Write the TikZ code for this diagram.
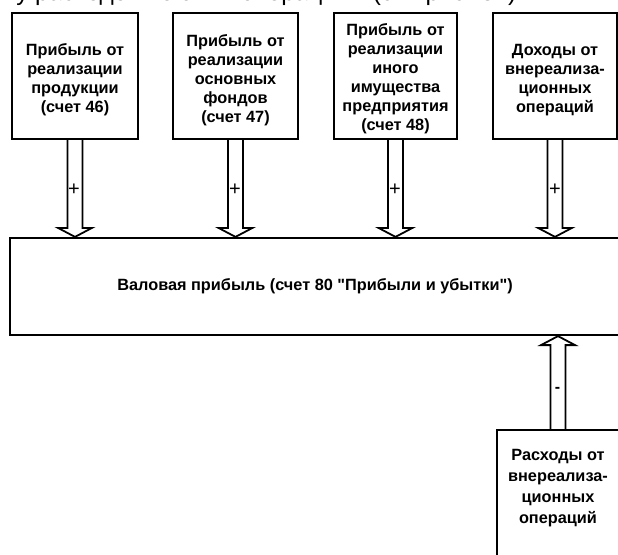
\documentclass[tikz,border=0pt]{standalone}
\usepackage{fontspec}
\setmainfont{Liberation Sans}
\newfontfamily\qfont{Liberation Sans}
\newcommand\dq{{\qfont"}}
\usetikzlibrary{calc}
\tikzset{
  box/.style={draw, line width=2.2pt, fill=white, inner sep=0pt},
  boxtext/.style={align=center, inner sep=0pt, font=\bfseries\fontsize{16.3}{19}\selectfont},
  lowtext/.style={align=center, inner sep=0pt, font=\bfseries\fontsize{16.3}{21}\selectfont},
  fat/.style={draw, line width=1.8pt, fill=white, line join=miter},
  sign/.style={inner sep=0pt, font=\fontsize{20}{20}\selectfont},
  minus/.style={inner sep=0pt, font=\bfseries\fontsize{16}{16}\selectfont},
  toptext/.style={anchor=base west, inner sep=0pt, font=\fontsize{24.4}{24.4}\selectfont},
}
\newcommand\fatdown[2]{%
  \draw[fat] ($(#1.south)+(-7.5,0)$) -- ($(#1.south |- #2.north)+(-7.5,9)$) -- ++(-9.5,0)
    -- (#1.south |- #2.north) -- ++(17,9) -- ++(-9.5,0) -- ($(#1.south)+(7.5,0)$);}
\newcommand\fatup[2]{%
  \draw[fat] ($(#1.north)+(-7.5,0)$) -- ($(#1.north |- #2.south)+(-7.5,-9)$) -- ++(-9.5,0)
    -- (#1.north |- #2.south) -- ++(17,-9) -- ++(-9.5,0) -- ($(#1.north)+(7.5,0)$);}
\begin{document}
\begin{tikzpicture}[x=1pt,y=1pt]
\path[use as bounding box] (0,0) rectangle (618,-554);
\clip (0,0) rectangle (618,-554);
\fill[white] (0,0) rectangle (618,-554);

\node[toptext] (top) at (-1,-1) {му расходов по этим операциям (см. рис. 34).};

\node[box, minimum width=126pt, minimum height=126pt] (b1) at (75,-76) {};
\node[box, minimum width=125pt, minimum height=126pt] (b2) at (235.5,-76) {};
\node[box, minimum width=123pt, minimum height=126pt] (b3) at (395.5,-76) {};
\node[box, minimum width=124pt, minimum height=126pt] (b4) at (555,-76) {};
\node[boxtext] (b1t) at ($(b1.center)+(0,-4)$) {Прибыль от\\реализации\\продукции\\(счет 46)};
\node[boxtext] (b2t) at ($(b2.center)+(0,-4)$) {Прибыль от\\реализации\\основных\\фондов\\(счет 47)};
\node[boxtext] (b3t) at ($(b3.center)+(0,-3)$) {Прибыль от\\реализации\\иного\\имущества\\предприятия\\(счет 48)};
\node[boxtext] (b4t) at ($(b4.center)+(0,-4)$) {Доходы от\\внереализа-\\ционных\\операций};

\node[box, minimum width=610pt, minimum height=97pt] (main) at (315,-286.5) {};
\node[boxtext] (maint) at ($(main.center)+(0,0)$)
  {Валовая прибыль (счет 80 \dq Прибыли и убытки\dq)};

\node[box, minimum width=122pt, minimum height=130pt] (b5) at (558,-495) {};
\node[lowtext] (b5t) at (558,-488) {Расходы от\\внереализа-\\ционных\\операций};

\fatdown{b1}{main}
\fatdown{b2}{main}
\fatdown{b3}{main}
\fatdown{b4}{main}
\fatup{b5}{main}

\node[sign] (p1) at (74,-190) {+};
\node[sign] (p2) at (235,-190) {+};
\node[sign] (p3) at (395,-190) {+};
\node[sign] (p4) at (555,-190) {+};
\node[minus] (m1) at (557.5,-390) {-};
\end{tikzpicture}
\end{document}
